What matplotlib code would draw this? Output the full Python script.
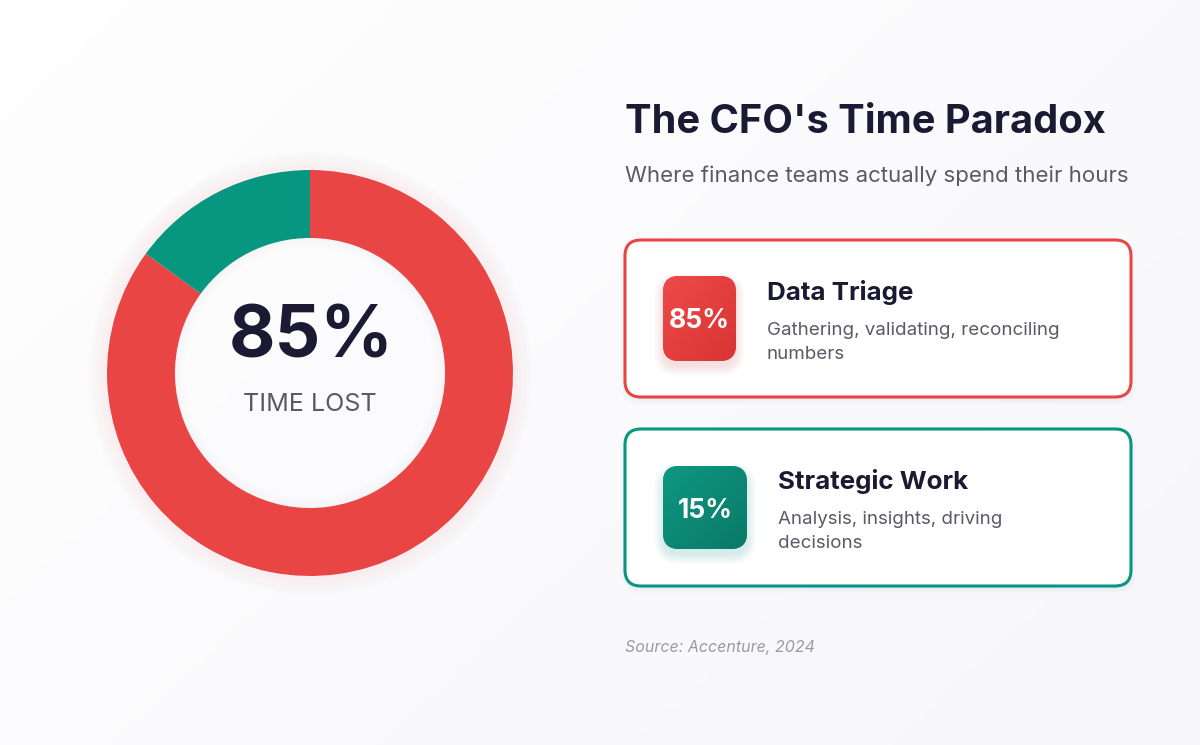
import matplotlib
matplotlib.use("Agg")
import matplotlib.pyplot as plt
import numpy as np
from matplotlib.patches import FancyBboxPatch, Circle

# ---- data ----
segments = ["Data Triage", "Strategic Work"]
shares = [85, 15]
seg_colors = ["#E94545", "#07967F"]
center_value = "85%"
center_label = "TIME LOST"
title = "The CFO's Time Paradox"
subtitle = "Where finance teams actually spend their hours"
card_titles = ["Data Triage", "Strategic Work"]
card_badges = ["85%", "15%"]
card_desc = [["Gathering, validating, reconciling", "numbers"],
             ["Analysis, insights, driving", "decisions"]]
source = "Source: Accenture, 2024"

FONT = "Inter"
DARK = "#1C1A33"
GRAY = "#5A5A66"

W, H = 1200, 745
fig = plt.figure(figsize=(W / 100, H / 100), dpi=100)
bg = fig.add_axes([0, 0, 1, 1])
bg.set_xlim(0, W)
bg.set_ylim(H, 0)
bg.axis("off")

# background gradient
gx = np.linspace(0, 1, 200)
gy = np.linspace(0, 1, 120)
GX, GY = np.meshgrid(gx, gy)
t = np.clip((GX * 0.6 + GY * 0.4), 0, 1)
c0 = np.array([0.998, 0.998, 0.998])
c1 = np.array([0.968, 0.968, 0.985])
img = c0[None, None, :] * (1 - t[..., None]) + c1[None, None, :] * t[..., None]
bg.imshow(img, extent=[0, W, H, 0], aspect="auto", zorder=0)

# donut glow
cx, cy, R = 310, 373, 203
for i in range(14):
    bg.add_patch(Circle((cx, cy), R + 1 + i * 1.3, fill=False, lw=2.0,
                        edgecolor="#E94545", alpha=0.035 * (14 - i) / 14, zorder=1))

# donut axes
dax = fig.add_axes([(cx - R) / W, (H - cy - R) / H, 2 * R / W, 2 * R / H])
dax.pie(shares, colors=seg_colors, startangle=90, counterclock=False, radius=1.0,
        wedgeprops=dict(width=68 / 203, edgecolor="none", linewidth=0))
dax.set_xlim(-1, 1)
dax.set_ylim(-1, 1)
dax.set_aspect("equal")
dax.axis("off")
# faint inner shadow inside hole
for i in range(8):
    dax.add_patch(Circle((0, 0), 135 / 203 - i * 0.006, fill=False, lw=2.0,
                         edgecolor="#B0B0C0", alpha=0.03 * (8 - i) / 8))

bg.text(311, 357, center_value, fontsize=51.5, fontweight="bold", color=DARK,
        family=FONT, ha="center", va="baseline", zorder=5)
bg.text(310, 411, center_label, fontsize=18, color=GRAY, family=FONT,
        ha="center", va="baseline", zorder=5)

# title block
bg.text(625, 133, title, fontsize=28.6, fontweight="bold", color=DARK, family=FONT,
        ha="left", va="baseline", zorder=5)
bg.text(625, 182, subtitle, fontsize=16, color=GRAY, family=FONT,
        ha="left", va="baseline", zorder=5)

# cards
cards_y = [240, 429]
badge_boxes = [(663, 276, 73, 85), (663, 466, 84, 83)]
text_x = [767, 778]
badge_grad = [("#EE4A4A", "#D93434"), ("#0E9782", "#0A7A68")]
for k in range(2):
    y0 = cards_y[k]
    # card shadow
    for s in range(6):
        bg.add_patch(FancyBboxPatch((625 - s, y0 + 3 - s), 506 + 2 * s, 157 + 2 * s,
                                    boxstyle="round,pad=0,rounding_size=%d" % (16 + s),
                                    facecolor="#9090B0", edgecolor="none",
                                    alpha=0.012, zorder=2))
    bg.add_patch(FancyBboxPatch((625, y0), 506, 157,
                                boxstyle="round,pad=0,rounding_size=16",
                                facecolor="#FFFFFF", edgecolor=seg_colors[k],
                                linewidth=2.2, zorder=3))
    bx, by, bw, bh = badge_boxes[k]
    # badge shadow
    for s in range(10):
        bg.add_patch(FancyBboxPatch((bx - s, by + 6 - s), bw + 2 * s, bh + 2 * s,
                                    boxstyle="round,pad=0,rounding_size=%d" % (16 + s),
                                    facecolor=seg_colors[k], edgecolor="none",
                                    alpha=0.014, zorder=3.5))
    patch = FancyBboxPatch((bx, by), bw, bh, boxstyle="round,pad=0,rounding_size=16",
                           facecolor=badge_grad[k][0], edgecolor="none", zorder=4)
    bg.add_patch(patch)
    ca = np.array(matplotlib.colors.to_rgb(badge_grad[k][0]))
    cb = np.array(matplotlib.colors.to_rgb(badge_grad[k][1]))
    u = np.linspace(0, 1, 50)
    UU, VV = np.meshgrid(u, u)
    tt = (UU + VV) / 2
    gimg = ca[None, None, :] * (1 - tt[..., None]) + cb[None, None, :] * tt[..., None]
    im = bg.imshow(gimg, extent=[bx, bx + bw, by + bh, by], aspect="auto", zorder=4.1)
    im.set_clip_path(patch)
    bg.text(bx + bw / 2, by + bh / 2 + 10, card_badges[k], fontsize=19,
            fontweight="bold", color="white", family=FONT, ha="center",
            va="baseline", zorder=5)
    off = y0 - 240
    bg.text(text_x[k], 300 + off, card_titles[k], fontsize=18.7, fontweight="bold",
            color=DARK, family=FONT, ha="left", va="baseline", zorder=5)
    for j, line in enumerate(card_desc[k]):
        bg.text(text_x[k], 335 + off + 24 * j, line, fontsize=13.5, color=GRAY,
                family=FONT, ha="left", va="baseline", zorder=5)

bg.text(625, 652, source, fontsize=11.5, style="italic", color="#9A9AA6",
        family=FONT, ha="left", va="baseline", zorder=5)

fig.savefig("out.png", dpi=100)
